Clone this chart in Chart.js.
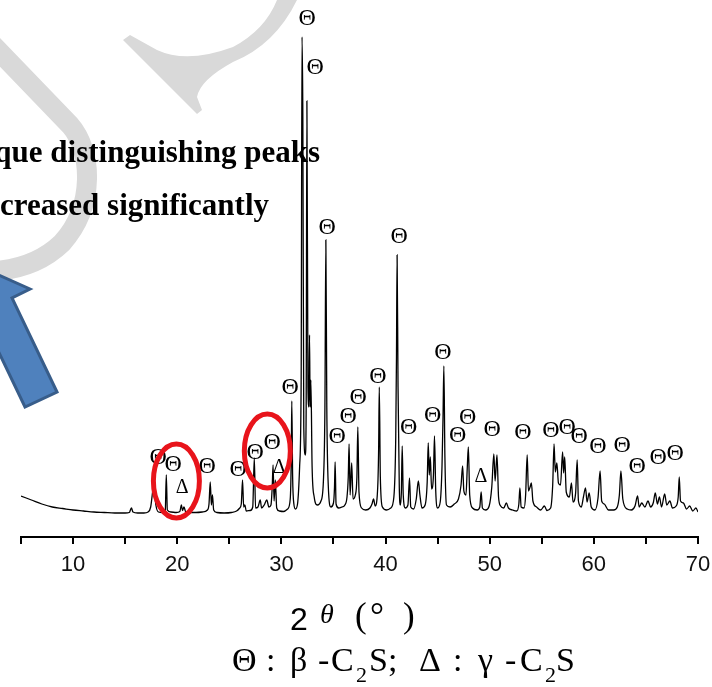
<!DOCTYPE html>
<html>
<head>
<meta charset="utf-8">
<script src="https://cdn.jsdelivr.net/npm/chart.js@4.4.0/dist/chart.umd.min.js"></script>
<style>
  html, body { margin: 0; padding: 0; background: #fff; }
  #wrap { width: 712px; height: 687px; }
</style>
</head>
<body>
<div id="wrap"><canvas id="xrd"></canvas></div>
<script>
// XRD pattern: diffraction angle 2θ (deg) and intensity (counts)
const twoTheta = [
  5, 6, 7, 8, 9, 10, 11, 12, 13, 14, 15, 15.4, 15.6, 15.75, 16.2, 16.8, 17.2, 17.45, 17.6, 17.7,
  17.8, 17.95, 18.2, 18.6, 18.85, 18.95, 19.05, 19.4, 19.9, 20.25, 20.4, 20.5, 20.65, 20.8, 21.2, 21.8,
  22.4, 22.9, 23.05, 23.17, 23.28, 23.38, 23.5, 23.8, 24.5, 25.2, 25.7, 26.0, 26.15, 26.27, 26.38, 26.5,
  26.62, 27.0, 27.25, 27.4, 27.52, 27.75, 27.97, 28.1, 28.35, 28.6, 28.8, 29.0, 29.12, 29.2, 29.3, 29.42,
  29.55, 29.8, 30.2, 30.6, 30.85, 30.95, 31.0, 31.08, 31.2, 31.35, 31.55, 31.75, 31.9, 31.98, 32.06, 32.15,
  32.3, 32.38, 32.45, 32.55, 32.65, 32.7, 32.76, 32.83, 32.95, 33.15, 33.45, 33.8, 34.05, 34.18, 34.27, 34.36,
  34.5, 34.75, 35.0, 35.1, 35.16, 35.25, 35.5, 35.8, 36.1, 36.3, 36.42, 36.5, 36.6, 36.75, 36.88, 37.1,
  37.25, 37.34, 37.45, 37.7, 38.1, 38.5, 38.7, 38.85, 39.0, 39.25, 39.34, 39.4, 39.5, 39.7, 40.1, 40.5,
  40.8, 40.98, 41.05, 41.11, 41.2, 41.32, 41.42, 41.52, 41.6, 41.7, 41.9, 42.15, 42.3, 42.42, 42.7, 42.95,
  43.15, 43.3, 43.5, 43.8, 44.0, 44.1, 44.2, 44.3, 44.42, 44.6, 44.7, 44.82, 45.0, 45.25, 45.42, 45.52,
  45.6, 45.7, 45.85, 46.2, 46.6, 47.0, 47.25, 47.4, 47.52, 47.72, 47.85, 47.95, 48.08, 48.35, 48.8, 49.05,
  49.18, 49.3, 49.6, 49.95, 50.2, 50.4, 50.52, 50.7, 50.85, 51.05, 51.35, 51.6, 51.8, 52.2, 52.6, 52.8,
  52.9, 53.02, 53.3, 53.45, 53.6, 53.72, 53.88, 54.0, 54.15, 54.5, 54.9, 55.25, 55.5, 55.85, 56.05, 56.18,
  56.3, 56.45, 56.6, 56.8, 57.0, 57.1, 57.2, 57.35, 57.65, 57.85, 58.0, 58.25, 58.4, 58.52, 58.8, 59.0,
  59.2, 59.35, 59.55, 59.75, 60.1, 60.4, 60.6, 60.75, 61.0, 61.4, 61.9, 62.25, 62.45, 62.6, 62.78, 63.2,
  63.6, 63.95, 64.2, 64.35, 64.6, 64.9, 65.2, 65.45, 65.7, 65.9, 66.1, 66.3, 66.5, 66.8, 67.0, 67.3,
  67.55, 67.9, 68.1, 68.2, 68.32, 68.6, 68.9, 69.2, 69.5, 69.8, 70
];
const counts = [
  410, 370, 330, 300, 285, 270, 260, 250, 245, 240, 240, 245, 290, 250, 240, 240, 250, 300, 420, 500,
  480, 320, 250, 245, 260, 620, 270, 250, 245, 255, 320, 265, 300, 255, 245, 245,
  250, 270, 330, 550, 320, 420, 270, 245, 240, 245, 260, 290, 330, 570, 300, 320,
  260, 265, 300, 790, 290, 300, 370, 290, 320, 370, 300, 320, 500, 720, 360, 570,
  290, 260, 255, 280, 380, 800, 1360, 600, 330, 280, 330, 700, 1600, 5000, 4200, 1100,
  820, 1300, 4360, 1500, 1300, 2020, 1300, 1570, 700, 400, 320, 360, 600, 1300, 2970, 1300,
  520, 300, 340, 500, 750, 330, 290, 300, 320, 400, 600, 930, 420, 740, 380, 420,
  600, 1100, 450, 290, 270, 290, 330, 380, 310, 500, 900, 1500, 600, 300, 270, 290,
  400, 1000, 1800, 2820, 1500, 500, 320, 450, 910, 420, 290, 320, 590, 300, 280, 380,
  560, 420, 290, 320, 550, 940, 620, 800, 480, 620, 1010, 460, 290, 350, 700, 1200,
  1710, 800, 320, 300, 330, 380, 520, 710, 460, 420, 700, 900, 420, 290, 270, 300,
  450, 290, 270, 310, 500, 830, 560, 820, 400, 310, 290, 340, 290, 270, 260, 330,
  490, 300, 290, 420, 820, 460, 500, 540, 360, 300, 270, 310, 265, 290, 520, 930,
  650, 740, 540, 520, 850, 640, 800, 450, 400, 540, 350, 440, 770, 360, 300, 400,
  490, 350, 440, 300, 270, 390, 660, 360, 330, 270, 270, 300, 420, 660, 380, 280,
  270, 310, 410, 300, 340, 300, 360, 300, 340, 440, 330, 400, 300, 430, 320, 360,
  290, 310, 400, 600, 360, 340, 280, 310, 260, 290, 250
];

// peak labels: β-C2S (Θ) and γ-C2S (Δ), placed at (2θ, counts)
const betaAt = [32.48, 33.24, 34.40, 41.31, 30.84, 45.52, 39.28, 37.37, 36.41, 35.36, 42.22, 44.52, 46.92, 47.88, 50.23,
  53.2, 55.89, 57.43, 58.58, 60.4, 62.71, 64.15, 66.17, 67.8, 18.18, 19.62, 22.88, 25.86, 27.49, 29.12];
const betaY = [5190, 4700, 3100, 3010, 1500, 1850, 1610, 1400, 1210, 1010, 1100, 1220, 1020, 1200, 1080,
  1050, 1070, 1100, 1010, 910, 920, 710, 800, 840, 800, 730, 710, 680, 850, 950];
const gammaAt = [20.48, 29.79, 49.17];
const gammaY = [500, 700, 610];

// regions circled in red
const circledAt = [19.92, 28.65];
const circledY = [560, 860];

const xTicks = { min: 5, max: 70, step: 5 };

const serif = '"Liberation Serif", "Times New Roman", serif';
const sans = '"Liberation Sans", Arial, sans-serif';

const decor = {
  id: 'decor',
  beforeDatasetsDraw(chart) {
    const ctx = chart.ctx;
    ctx.save();
    // grey watermark strokes
    ctx.strokeStyle = '#d9d9d9';
    ctx.lineWidth = 20;
    ctx.beginPath();
    ctx.moveTo(-12, 40);
    ctx.lineTo(70, 125);
    ctx.bezierCurveTo(92, 150, 96, 205, 62, 243);
    ctx.quadraticCurveTo(36, 268, -5, 271);
    ctx.stroke();

    ctx.fillStyle = '#d9d9d9';
    ctx.beginPath();
    ctx.moveTo(130, 35);
    ctx.lineTo(157, 50);
    ctx.quadraticCurveTo(187, 64, 233, 47);
    ctx.quadraticCurveTo(265, 30, 277, 0);
    ctx.lineTo(297, 0);
    ctx.quadraticCurveTo(275, 45, 233, 62);
    ctx.quadraticCurveTo(200, 80, 197, 97);
    ctx.lineTo(202, 110);
    ctx.lineTo(197, 114);
    ctx.lineTo(123, 40);
    ctx.closePath();
    ctx.fill();

    // caption text, cut at the left edge
    ctx.fillStyle = '#000';
    ctx.font = 'bold 31px ' + serif;
    ctx.textAlign = 'right';
    ctx.textBaseline = 'alphabetic';
    ctx.fillText('que distinguishing peaks', 320, 162);
    ctx.fillText('creased significantly', 269, 215);

    // blue arrow
    ctx.beginPath();
    ctx.moveTo(57, 392);
    ctx.lineTo(12, 298);
    ctx.lineTo(30, 289);
    ctx.lineTo(-24, 265);
    ctx.lineTo(-38, 322);
    ctx.lineTo(-20, 313);
    ctx.lineTo(25, 407);
    ctx.closePath();
    ctx.fillStyle = '#4f81bd';
    ctx.fill();
    ctx.lineWidth = 3;
    ctx.strokeStyle = '#385d8a';
    ctx.lineJoin = 'miter';
    ctx.stroke();
    ctx.restore();
  },
  afterDatasetsDraw(chart) {
    const ctx = chart.ctx;
    const xs = chart.scales.x, ys = chart.scales.y;
    ctx.save();
    ctx.fillStyle = '#000';
    ctx.textAlign = 'center';
    ctx.textBaseline = 'middle';

    ctx.font = '24px ' + serif;
    betaAt.forEach((t, i) => {
      ctx.fillText('Θ', xs.getPixelForValue(t), ys.getPixelForValue(betaY[i]) + 1);
    });
    ctx.font = '20px ' + serif;
    gammaAt.forEach((t, i) => {
      ctx.fillText('Δ', xs.getPixelForValue(t), ys.getPixelForValue(gammaY[i]) + 1);
    });

    ctx.strokeStyle = '#e8141b';
    ctx.lineWidth = 5;
    circledAt.forEach((t, i) => {
      ctx.beginPath();
      ctx.ellipse(xs.getPixelForValue(t), ys.getPixelForValue(circledY[i]), 23, 37, 0, 0, Math.PI * 2);
      ctx.stroke();
    });

    // axis title: 2θ (°)
    ctx.textAlign = 'left';
    ctx.textBaseline = 'alphabetic';
    ctx.font = '32px ' + sans;
    ctx.fillText('2', 290, 630);
    ctx.font = 'italic 28px ' + serif;
    ctx.fillText('θ', 320, 623);
    ctx.font = '35px ' + serif;
    ctx.fillText('(', 355, 627);
    ctx.fillText('°', 370, 627);
    ctx.fillText(')', 403, 627);

    // phase key
    ctx.font = '34px ' + serif;
    ctx.fillText('Θ', 232, 671);
    ctx.fillText(':', 266, 671);
    ctx.fillText('β', 290, 671);
    ctx.fillText('-', 318, 671);
    ctx.fillText('C', 331, 671);
    ctx.fillText('S;', 369, 671);
    ctx.fillText('Δ', 419, 671);
    ctx.fillText(':', 453, 671);
    ctx.fillText('γ', 478, 671);
    ctx.fillText('-', 505, 671);
    ctx.fillText('C', 520, 671);
    ctx.fillText('S', 556, 671);
    ctx.font = '22px ' + serif;
    ctx.fillText('2', 356, 682);
    ctx.fillText('2', 545, 682);
    ctx.restore();
  }
};

new Chart(document.getElementById('xrd'), {
  type: 'line',
  data: {
    datasets: [{
      data: twoTheta.map((t, i) => ({ x: t, y: counts[i] })),
      borderColor: '#000',
      borderWidth: 1.3,
      pointRadius: 0,
      cubicInterpolationMode: 'monotone',
      fill: false
    }]
  },
  options: {
    responsive: true,
    maintainAspectRatio: false,
    devicePixelRatio: 1,
    animation: false,
    layout: { padding: { left: 21, right: 14, top: 7, bottom: 0 } },
    plugins: { legend: { display: false }, tooltip: { enabled: false } },
    scales: {
      x: {
        type: 'linear',
        min: xTicks.min,
        max: xTicks.max,
        border: { display: true, color: '#000', width: 2 },
        grid: { display: true, drawOnChartArea: false, drawTicks: true, tickLength: 7, color: '#000', lineWidth: 2 },
        ticks: {
          stepSize: xTicks.step,
          autoSkip: false,
          maxRotation: 0,
          color: '#111',
          padding: 8,
          font: { family: sans, size: 22 },
          callback: v => (v % 10 === 0 ? v : '')
        },
        afterFit: s => {
          s.height = 150;
          s.paddingLeft = 0;
          s.paddingRight = 0;
        }
      },
      y: { display: false, min: 0, max: 5300 }
    }
  },
  plugins: [decor]
});
</script>
</body>
</html>
